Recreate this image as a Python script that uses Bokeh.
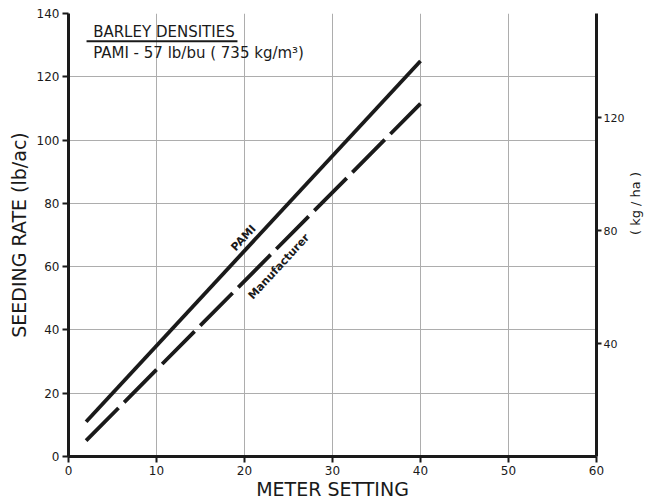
import math
from bokeh.plotting import figure
from bokeh.models import Range1d, LinearAxis, FixedTicker, Label
from bokeh.embed import file_html
from bokeh.resources import INLINE

# data
meter = [2, 40]
pami = [11, 125]
manufacturer = [5, 111.5]
x_ticks = [0, 10, 20, 30, 40, 50, 60]
y_ticks = [0, 20, 40, 60, 80, 100, 120, 140]
kgha_ticks = [40, 80, 120]
LB_AC_TO_KG_HA = 1.12085

FONT = "DejaVu Sans"
INK = "#1a1a1a"

p = figure(width=654, height=502, output_backend="svg", toolbar_location=None,
           x_range=Range1d(0, 60), y_range=Range1d(0, 140),
           min_border_left=68, min_border_right=58, min_border_top=13, min_border_bottom=45)
p.outline_line_color = None
p.background_fill_color = "white"
p.border_fill_color = "white"

p.extra_y_ranges = {"kg": Range1d(0, 140 * LB_AC_TO_KG_HA)}

p.xaxis.ticker = FixedTicker(ticks=x_ticks)
p.yaxis.ticker = FixedTicker(ticks=y_ticks)
p.xgrid.ticker = FixedTicker(ticks=x_ticks)
p.ygrid.ticker = FixedTicker(ticks=y_ticks)
p.grid.grid_line_color = "#adadad"
p.grid.grid_line_width = 1

for ax in (p.xaxis[0], p.yaxis[0]):
    ax.axis_line_width = 3
    ax.axis_line_color = INK
    ax.major_tick_line_width = 2
    ax.major_tick_line_color = INK
    ax.major_tick_out = 6
    ax.major_tick_in = 0
    ax.minor_tick_line_color = None
    ax.major_label_text_font = FONT
    ax.major_label_text_font_size = "12px"
    ax.major_label_text_color = INK
    ax.major_label_standoff = 3
    ax.axis_label_text_font = FONT
    ax.axis_label_text_font_style = "normal"
    ax.axis_label_text_color = INK

p.xaxis.axis_label = "METER SETTING"
p.xaxis.axis_label_text_font_size = "19px"
p.xaxis.axis_label_standoff = 0
p.yaxis.axis_label = "SEEDING RATE (lb/ac)"
p.yaxis.axis_label_text_font_size = "19px"
p.yaxis.axis_label_standoff = 4

right = LinearAxis(y_range_name="kg", ticker=FixedTicker(ticks=kgha_ticks),
                   axis_label="( kg / ha )")
right.axis_line_width = 3
right.axis_line_color = INK
right.major_tick_line_width = 2
right.major_tick_line_color = INK
right.major_tick_out = 5
right.major_tick_in = 0
right.minor_tick_line_color = None
right.major_label_text_font = FONT
right.major_label_text_font_size = "11px"
right.major_label_text_color = INK
right.major_label_standoff = 2
right.axis_label_text_font = FONT
right.axis_label_text_font_size = "13px"
right.axis_label_text_font_style = "normal"
right.axis_label_text_color = INK
right.axis_label_text_align = "center"
right.axis_label_standoff = 8
if hasattr(right, "axis_label_orientation"):
    right.axis_label_orientation = math.pi / 2
p.add_layout(right, "right")

p.line(meter, pami, line_color=INK, line_width=3.8)
p.line(meter, manufacturer, line_color=INK, line_width=3.8, line_dash="46 8")

p.add_layout(Label(x=19.9, y=69, text="PAMI", angle=0.827, text_align="center",
                   text_baseline="middle", text_font=FONT, text_font_size="11px",
                   text_color=INK, text_font_style="bold"))
p.add_layout(Label(x=23.9, y=60, text="Manufacturer", angle=0.827, text_align="center",
                   text_baseline="middle", text_font=FONT, text_font_size="11px",
                   text_color=INK, text_font_style="bold"))

p.add_layout(Label(x=2.8, y=134, text="BARLEY DENSITIES", text_align="left",
                   text_baseline="middle", text_font=FONT, text_font_size="15px",
                   text_color=INK))
p.segment(x0=[2.05], y0=[131.2], x1=[19.2], y1=[131.2], line_color=INK, line_width=2)
p.add_layout(Label(x=2.8, y=127.5, text="PAMI  -  57 lb/bu ( 735 kg/m³)", text_align="left",
                   text_baseline="middle", text_font=FONT, text_font_size="15px",
                   text_color=INK))

open("out.html", "w").write(file_html(p, INLINE))
